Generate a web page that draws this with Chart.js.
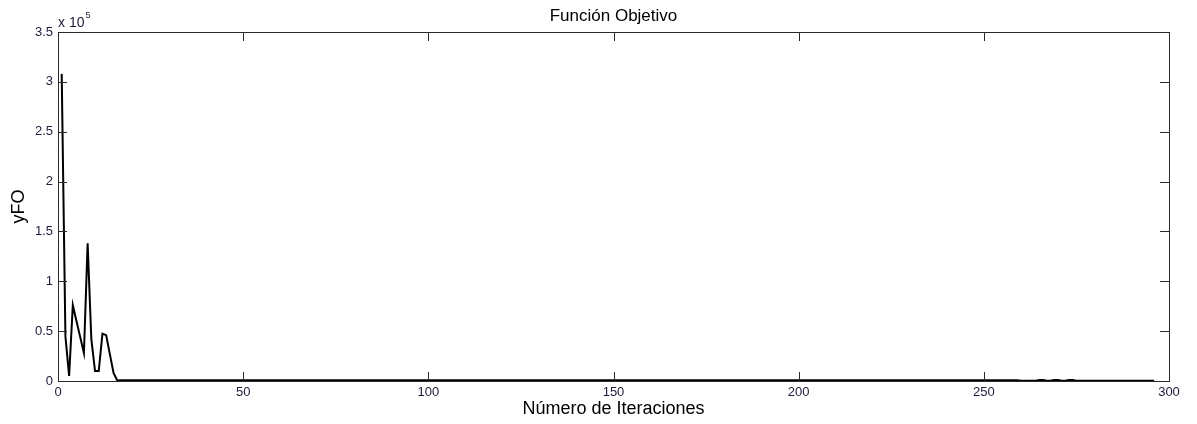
<!DOCTYPE html>
<html>
<head>
<meta charset="utf-8">
<title>Función Objetivo</title>
<script src="https://cdn.jsdelivr.net/npm/chart.js@4/dist/chart.umd.min.js"></script>
<style>
  html, body { margin: 0; padding: 0; background: #ffffff; }
  #wrap { width: 1197px; height: 424px; }
</style>
</head>
<body>
<div id="wrap"><canvas id="fo" width="1197" height="424"></canvas></div>
<script>
// Objective function value per iteration
const yFO = [
  308000, 45000, 5000, 76000, 60000, 44000, 28000, 138000, 42000, 10000,
  10000, 47500, 46000, 27000, 8000, 500, 700, 700, 700, 700,
  700, 700, 700, 700, 700, 700, 700, 700, 700, 700,
  700, 700, 700, 700, 700, 700, 700, 700, 700, 700,
  700, 700, 700, 700, 700, 700, 700, 700, 700, 700,
  700, 700, 700, 700, 700, 700, 700, 700, 700, 700,
  700, 700, 700, 700, 700, 700, 700, 700, 700, 700,
  700, 700, 700, 700, 700, 700, 700, 700, 700, 700,
  700, 700, 700, 700, 700, 700, 700, 700, 700, 700,
  700, 700, 700, 700, 700, 700, 700, 700, 700, 700,
  700, 700, 700, 700, 700, 700, 700, 700, 700, 700,
  700, 700, 700, 700, 700, 700, 700, 700, 700, 700,
  700, 700, 700, 700, 700, 700, 700, 700, 700, 700,
  700, 700, 700, 700, 700, 700, 700, 700, 700, 700,
  700, 700, 700, 700, 700, 700, 700, 700, 700, 700,
  700, 700, 700, 700, 700, 700, 700, 700, 700, 700,
  700, 700, 700, 700, 700, 700, 700, 700, 700, 700,
  700, 700, 700, 700, 700, 700, 700, 700, 700, 700,
  700, 700, 700, 700, 700, 700, 700, 700, 700, 700,
  700, 700, 700, 700, 700, 700, 700, 700, 700, 700,
  700, 700, 700, 700, 700, 700, 700, 700, 700, 700,
  700, 700, 700, 700, 700, 700, 700, 700, 700, 700,
  700, 700, 700, 700, 700, 700, 700, 700, 700, 700,
  700, 700, 700, 700, 700, 700, 700, 700, 700, 700,
  700, 700, 700, 700, 700, 700, 700, 700, 700, 700,
  700, 700, 700, 700, 700, 700, 700, 700, 700, 200,
  200, 200, 200, 200, 1000, 1000, 200, 200, 1000, 1000,
  200, 200, 1000, 1000, 200, 200, 200, 350, 200, 200,
  200, 200, 200, 200, 200, 200, 200, 200, 200, 200,
  200, 200, 200, 200, 200, 200
];

// Iteration numbers 1..N, one per recorded value
const iterations = yFO.map((_, i) => i + 1);

// Axis tick positions
const xTicks = [0, 50, 100, 150, 200, 250, 300];
const yTicks = [0, 50000, 100000, 150000, 200000, 250000, 300000, 350000];
const yExponent = '5';

const FONT = "'Liberation Sans', Arial, Helvetica, sans-serif";
const TICK_COLOR = '#1c1c3a';
const FRAME_COLOR = '#2a2a2a';

Chart.defaults.font.family = FONT;

// Box around the axes with inward tick marks on all four sides,
// plus the "x 10^5" multiplier over the y axis.
const frameTicks = {
  id: 'frameTicks',
  afterDatasetsDraw(chart) {
    const { ctx, chartArea: a, scales: { x, y } } = chart;
    const len = 9;
    ctx.save();
    ctx.strokeStyle = FRAME_COLOR;
    ctx.lineWidth = 1;
    ctx.beginPath();
    xTicks.forEach(v => {
      const px = Math.round(x.getPixelForValue(v)) + 0.5;
      ctx.moveTo(px, a.bottom); ctx.lineTo(px, a.bottom - len);
      ctx.moveTo(px, a.top); ctx.lineTo(px, a.top + len);
    });
    yTicks.forEach(v => {
      const py = Math.round(y.getPixelForValue(v)) + 0.5;
      ctx.moveTo(a.left, py); ctx.lineTo(a.left + len, py);
      ctx.moveTo(a.right, py); ctx.lineTo(a.right - len, py);
    });
    ctx.stroke();
    ctx.strokeRect(Math.round(a.left) + 0.5, Math.round(a.top) + 0.5,
                   Math.round(a.right - a.left), Math.round(a.bottom - a.top));

    ctx.fillStyle = TICK_COLOR;
    ctx.textBaseline = 'alphabetic';
    ctx.textAlign = 'left';
    ctx.font = '14px ' + FONT;
    const base = 'x 10';
    ctx.fillText(base, a.left, a.top - 5);
    const w = ctx.measureText(base).width;
    ctx.font = '9px ' + FONT;
    ctx.fillText(yExponent, a.left + w + 1, a.top - 14);
    ctx.restore();
  }
};

new Chart(document.getElementById('fo'), {
  type: 'line',
  data: {
    labels: iterations,
    datasets: [{
      label: 'yFO',
      data: yFO,
      borderColor: '#000000',
      borderWidth: 2,
      pointRadius: 0,
      tension: 0,
      fill: false
    }]
  },
  options: {
    responsive: false,
    animation: false,
    devicePixelRatio: 1,
    layout: { padding: { left: 0, right: 28, top: 0, bottom: 0 } },
    plugins: {
      legend: { display: false },
      tooltip: { enabled: false },
      title: {
        display: true,
        text: 'Función Objetivo',
        fullSize: false,
        color: '#000000',
        font: { size: 17, weight: 'normal', lineHeight: 1.2 },
        padding: { top: 6, bottom: 5.6 }
      }
    },
    scales: {
      x: {
        type: 'linear',
        min: 0,
        max: 300,
        afterBuildTicks(scale) { scale.ticks = xTicks.map(v => ({ value: v })); },
        afterFit(scale) { scale.height = 43; },
        grid: { display: false, drawTicks: false },
        border: { display: false },
        ticks: {
          color: TICK_COLOR,
          font: { size: 13 },
          padding: 4,
          maxRotation: 0,
          autoSkip: false
        },
        title: {
          display: true,
          text: 'Número de Iteraciones',
          color: '#000000',
          font: { size: 18 },
          padding: { top: 0, bottom: 4 }
        }
      },
      y: {
        type: 'linear',
        min: 0,
        max: 350000,
        afterBuildTicks(scale) { scale.ticks = yTicks.map(v => ({ value: v })); },
        afterFit(scale) { scale.width = 58; },
        grid: { display: false, drawTicks: false },
        border: { display: false },
        ticks: {
          color: TICK_COLOR,
          font: { size: 13 },
          padding: 5,
          callback: v => String(v / 100000)
        },
        title: {
          display: true,
          text: 'yFO',
          color: '#000000',
          font: { size: 18 },
          padding: { top: 8, bottom: 0 }
        }
      }
    }
  },
  plugins: [frameTicks]
});
</script>
</body>
</html>
